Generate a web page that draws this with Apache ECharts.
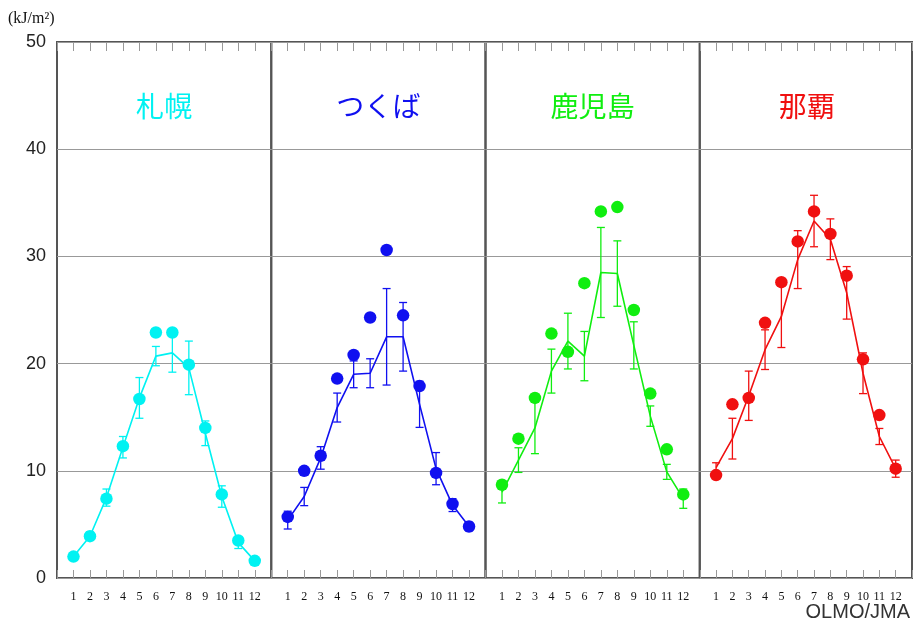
<!DOCTYPE html>
<html>
<head>
<meta charset="utf-8">
<script src="https://cdn.jsdelivr.net/npm/echarts@6/dist/echarts.min.js"></script>
<style>
  html, body { margin: 0; padding: 0; background: #fff; }
  #chart { width: 915px; height: 624px; }
</style>
</head>
<body>
<div id="chart"></div>
<script>
// Monthly solar radiation (kJ/m²): observed values (dots), normal mean (line), standard deviation (error bars)
const months = [1, 2, 3, 4, 5, 6, 7, 8, 9, 10, 11, 12];
const monthLabels = ['1', '2', '3', '4', '5', '6', '7', '8', '9', '10', '11', '12'];
const yTicks = [0, 10, 20, 30, 40, 50];

const stationNames = ['札幌', 'つくば', '鹿児島', '那覇'];
const stationColors = ['#00f2f2', '#1010f0', '#10ee10', '#f01010'];

const sapporoObs  = [2.0, 3.9, 7.4, 12.3, 16.7, 22.9, 22.9, 19.9, 14.0, 7.8, 3.5, 1.6];
const sapporoMean = [2.0, 3.9, 7.5, 12.2, 16.8, 20.7, 21.0, 19.6, 13.5, 7.6, 3.3, 1.6];
const sapporoSd   = [0.3, 0.4, 0.8, 1.0, 1.9, 0.9, 1.8, 2.5, 1.15, 1.0, 0.55, 0.3];

const tsukubaObs  = [5.7, 10.0, 11.4, 18.6, 20.8, 24.3, 30.6, 24.5, 17.9, 9.8, 6.9, 4.8];
const tsukubaMean = [5.4, 7.6, 11.2, 15.9, 19.0, 19.1, 22.5, 22.5, 16.2, 10.2, 6.8, 4.8];
const tsukubaSd   = [0.83, 0.85, 1.05, 1.35, 1.25, 1.35, 4.5, 3.2, 2.15, 1.5, 0.6, 0.4];

const kagoshimaObs  = [8.7, 13.0, 16.8, 22.8, 21.1, 27.5, 34.2, 34.6, 25.0, 17.2, 12.0, 7.8];
const kagoshimaMean = [8.0, 11.0, 14.0, 19.3, 22.1, 20.7, 28.5, 28.4, 21.7, 15.1, 9.9, 7.4];
const kagoshimaSd   = [1.0, 1.15, 2.4, 2.05, 2.6, 2.3, 4.2, 3.05, 2.2, 0.95, 0.7, 0.9];

const nahaObs  = [9.6, 16.2, 16.8, 23.8, 27.6, 31.4, 34.2, 32.1, 28.2, 20.4, 15.2, 10.2];
const nahaMean = [10.3, 13.0, 17.0, 21.3, 24.4, 29.7, 33.3, 31.6, 26.6, 19.1, 13.2, 10.2];
const nahaSd   = [0.45, 1.9, 2.3, 1.85, 2.9, 2.7, 2.4, 1.9, 2.45, 1.9, 0.75, 0.8];

const stations = [
  { obs: sapporoObs, mean: sapporoMean, sd: sapporoSd },
  { obs: tsukubaObs, mean: tsukubaMean, sd: tsukubaSd },
  { obs: kagoshimaObs, mean: kagoshimaMean, sd: kagoshimaSd },
  { obs: nahaObs, mean: nahaMean, sd: nahaSd }
];

const chart = echarts.init(document.getElementById('chart'), null, { renderer: 'canvas' });

const plotLeft = 57, plotRight = 914, plotTop = 42, plotBottom = 578;
const panelW = (plotRight - plotLeft) / 4;

const grids = [], xAxes = [], yAxes = [], series = [], titles = [];

stations.forEach((st, i) => {
  const color = stationColors[i];
  grids.push({
    left: plotLeft + i * panelW, width: panelW,
    top: plotTop, height: plotBottom - plotTop,
    show: true, borderColor: '#555', borderWidth: 2, backgroundColor: 'transparent'
  });
  // bottom month axis
  xAxes.push({
    type: 'value', gridIndex: i, position: 'bottom', min: 0, max: 13, interval: 1,
    axisLine: { show: false },
    axisTick: { show: true, inside: true, length: 8, lineStyle: { color: '#999', width: 1 } },
    axisLabel: {
      margin: 13, fontSize: 12, fontFamily: 'Liberation Serif', color: '#111',
      formatter: v => (v >= 1 && v <= 12) ? monthLabels[v - 1] : ''
    },
    splitLine: { show: false }
  });
  // top tick-only axis
  xAxes.push({
    type: 'value', gridIndex: i, position: 'top', min: 0, max: 13, interval: 1,
    axisLine: { show: false },
    axisTick: { show: true, inside: true, length: 9, lineStyle: { color: '#999', width: 1 } },
    axisLabel: { show: false },
    splitLine: { show: false }
  });
  yAxes.push({
    type: 'value', gridIndex: i, min: yTicks[0], max: yTicks[yTicks.length - 1], interval: 10,
    axisLine: { show: false },
    axisTick: { show: false },
    axisLabel: {
      show: i === 0, margin: 11, fontSize: 18, fontFamily: 'Liberation Sans', color: '#222'
    },
    splitLine: { show: true, lineStyle: { color: '#999', width: 1 } }
  });

  const bottomAxis = i * 2;
  series.push({
    type: 'line', xAxisIndex: bottomAxis, yAxisIndex: i,
    data: months.map((m, k) => [m, st.mean[k]]),
    showSymbol: false, symbol: 'none',
    lineStyle: { color: color, width: 1.6 }, z: 3, animation: false
  });
  series.push({
    type: 'custom', xAxisIndex: bottomAxis, yAxisIndex: i,
    data: months.map((m, k) => [m, st.mean[k] - st.sd[k], st.mean[k] + st.sd[k]]),
    renderItem: (params, api) => {
      const x = api.value(0);
      const lo = api.coord([x, api.value(1)]);
      const hi = api.coord([x, api.value(2)]);
      const hw = 4;
      const style = { stroke: color, lineWidth: 1.3 };
      return {
        type: 'group',
        children: [
          { type: 'line', shape: { x1: lo[0], y1: lo[1], x2: hi[0], y2: hi[1] }, style },
          { type: 'line', shape: { x1: lo[0] - hw, y1: lo[1], x2: lo[0] + hw, y2: lo[1] }, style },
          { type: 'line', shape: { x1: hi[0] - hw, y1: hi[1], x2: hi[0] + hw, y2: hi[1] }, style }
        ]
      };
    },
    z: 4, animation: false
  });
  series.push({
    type: 'scatter', xAxisIndex: bottomAxis, yAxisIndex: i,
    data: months.map((m, k) => [m, st.obs[k]]),
    symbol: 'circle', symbolSize: 12.5,
    itemStyle: { color: color, opacity: 1 }, z: 5, animation: false
  });

  titles.push({
    text: stationNames[i],
    left: plotLeft + (i + 0.5) * panelW, top: 92, textAlign: 'center', padding: 0,
    textStyle: { fontSize: 28, fontWeight: 'normal', color: color, fontFamily: 'Noto Sans CJK JP' }
  });
});

chart.setOption({
  animation: false,
  backgroundColor: '#fff',
  title: titles,
  grid: grids,
  xAxis: xAxes,
  yAxis: yAxes,
  series: series,
  graphic: [
    {
      type: 'text', left: 8, top: 11,
      style: { text: '(kJ/m²)', font: '16px "Liberation Serif"', fill: '#111' }
    },
    {
      type: 'text', right: 5, top: 602,
      style: { text: 'OLMO/JMA', font: '20px "Liberation Sans"', fill: '#333' }
    }
  ]
});
</script>
</body>
</html>
